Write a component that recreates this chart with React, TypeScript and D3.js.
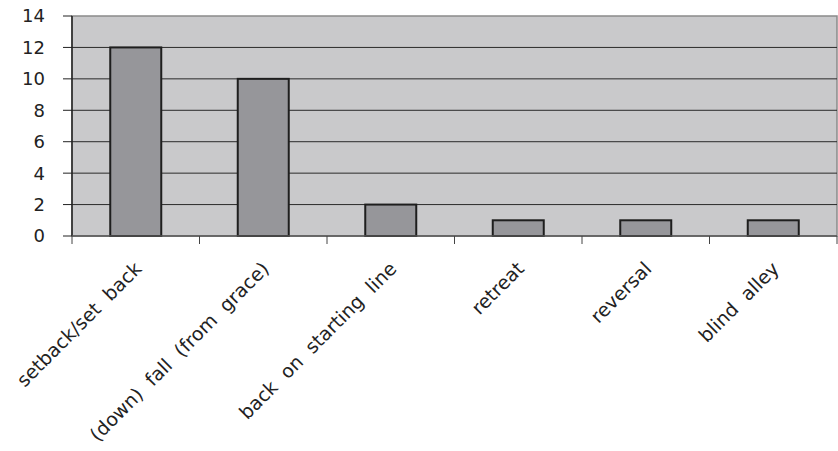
import React from "react";
import * as d3 from "d3";

const categories = ["setback/set back", "(down) fall (from grace)", "back on starting line", "retreat", "reversal", "blind alley"];
const values = [12, 10, 2, 1, 1, 1];
const yTicks = [0, 2, 4, 6, 8, 10, 12, 14];

const W = 838, H = 451;
const margin = { left: 72, right: 1, top: 16, bottom: 215 };

export default function App() {
  const x = d3.scaleBand<string>().domain(categories).range([margin.left, W - margin.right]).paddingInner(0.6).paddingOuter(0.3);
  const band = d3.scaleBand<string>().domain(categories).range([margin.left, W - margin.right]);
  const y = d3.scaleLinear().domain([0, 14]).range([H - margin.bottom, margin.top]);
  const font = "'DejaVu Sans', Verdana, sans-serif";
  const x0 = margin.left, x1 = W - margin.right, yb = y(0), yt = y(14);
  return (
    <svg width={W} height={H} style={{ position: "absolute", left: 0, top: 0 }} fontFamily={font}>
      <rect x={x0} y={yt} width={x1 - x0} height={yb - yt} fill="#c9c9cb" stroke="#8a8a8a" strokeWidth={1.5} />
      {yTicks.filter(t => t > 0 && t < 14).map(t => (
        <line key={t} x1={x0} x2={x1} y1={y(t)} y2={y(t)} stroke="#2a2a2a" strokeWidth={1} />
      ))}
      {categories.map((c, i) => (
        <rect key={c} x={x(c)} y={y(values[i])} width={x.bandwidth()} height={yb - y(values[i])} fill="#96969a" stroke="#1e1e1e" strokeWidth={2} />
      ))}
      <line x1={x0} x2={x0} y1={yt} y2={yb} stroke="#222" strokeWidth={1.5} />
      <line x1={x0} x2={x1} y1={yb} y2={yb} stroke="#555" strokeWidth={1.5} />
      {yTicks.map(t => (
        <g key={t}>
          <line x1={x0 - 9} x2={x0} y1={y(t)} y2={y(t)} stroke="#222" strokeWidth={1} />
          <text x={x0 - 27} y={y(t)} dy="0.36em" textAnchor="end" fontSize={18} fill="#222">{t}</text>
        </g>
      ))}
      {[...categories.map(c => band(c) as number), x1].map((v, i) => (
        <line key={i} x1={v} x2={v} y1={yb} y2={yb + 8} stroke="#444" strokeWidth={1} />
      ))}
      {categories.map(c => {
        const cx = (band(c) as number) + band.bandwidth() / 2 + 7;
        const cy = yb + 34;
        return (
          <text key={c} transform={`translate(${cx},${cy}) rotate(-45)`} textAnchor="end" fontSize={19} fill="#222" style={{ wordSpacing: "6px" }}>{c}</text>
        );
      })}
    </svg>
  );
}
